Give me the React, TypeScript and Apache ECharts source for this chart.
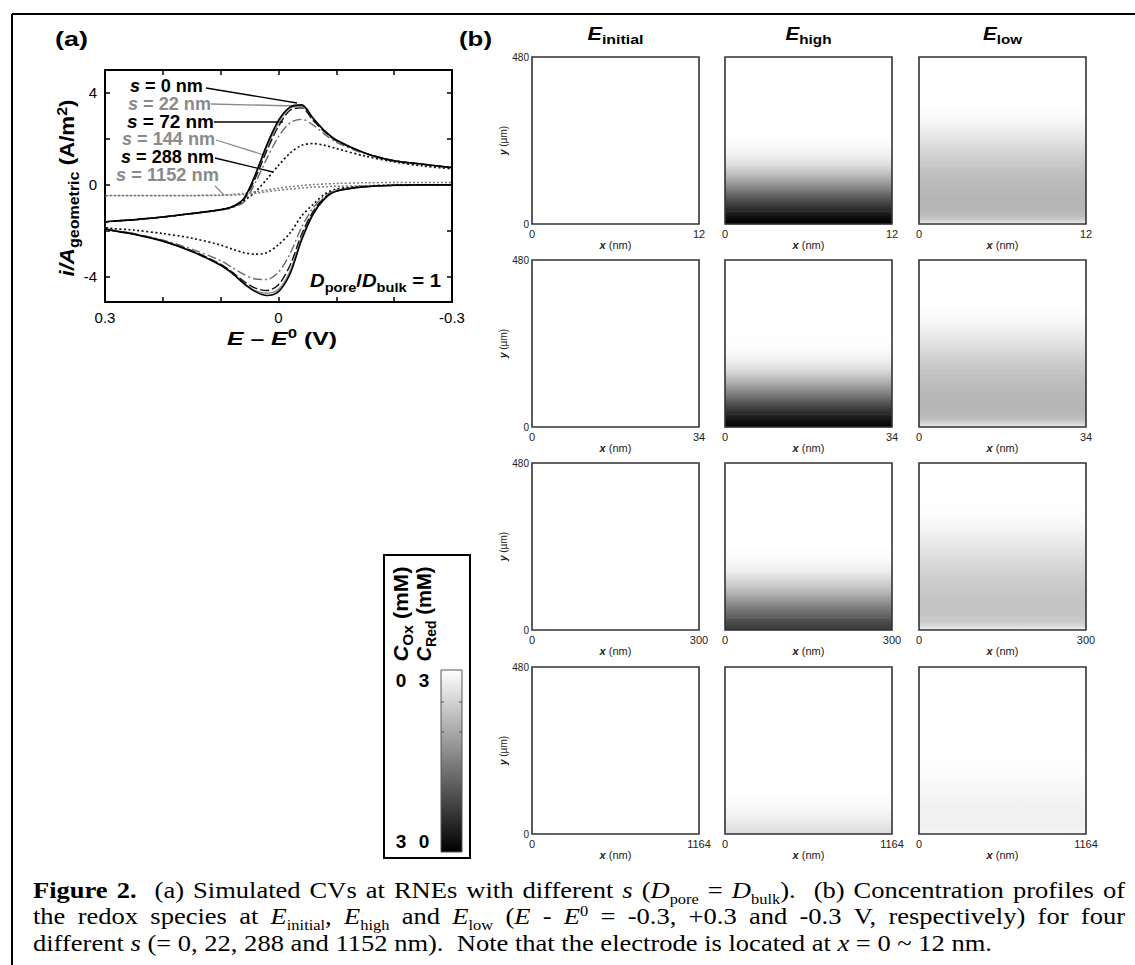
import React, { useEffect, useRef } from 'react';
import * as echarts from 'echarts';

// ---------------- Panel (a): simulated CVs ----------------
const E_GRID = [-0.3, -0.25, -0.2, -0.15, -0.1, -0.08, -0.06, -0.04, -0.02, 0, 0.02, 0.04, 0.06, 0.08, 0.1, 0.15, 0.2, 0.25, 0.3];
const S_VALUES = [0, 22, 72, 144, 288, 1152];
// forward sweep (E from -0.3 to +0.3) and reverse sweep (values listed in the same E order)
const FWD_S0 = [0, 0, -0.02, -0.08, -0.28, -0.6, -1.27, -2.4, -3.87, -4.65, -4.82, -4.65, -4.3, -3.85, -3.5, -2.9, -2.45, -2.15, -1.87];
const REV_S0 = [0.75, 0.9, 1.05, 1.38, 1.95, 2.35, 2.9, 3.48, 3.38, 2.8, 1.75, 0.45, -0.6, -0.95, -1.08, -1.25, -1.4, -1.52, -1.65];
const FWD_S22 = [0, 0, -0.02, -0.08, -0.27, -0.58, -1.2, -2.3, -3.75, -4.55, -4.72, -4.6, -4.27, -3.83, -3.48, -2.88, -2.44, -2.14, -1.86];
const REV_S22 = [0.75, 0.9, 1.05, 1.38, 1.93, 2.33, 2.85, 3.42, 3.35, 2.7, 1.65, 0.4, -0.6, -0.95, -1.08, -1.25, -1.4, -1.52, -1.65];
const FWD_S72 = [0, 0, -0.02, -0.08, -0.26, -0.55, -1.15, -2.15, -3.5, -4.35, -4.6, -4.5, -4.2, -3.8, -3.45, -2.87, -2.43, -2.13, -1.86];
const REV_S72 = [0.75, 0.9, 1.05, 1.38, 1.92, 2.3, 2.8, 3.35, 3.25, 2.55, 1.5, 0.3, -0.65, -0.97, -1.08, -1.25, -1.4, -1.52, -1.65];
const FWD_S144 = [0, 0, -0.02, -0.07, -0.23, -0.48, -1.0, -1.85, -3.0, -3.8, -4.12, -4.1, -3.9, -3.6, -3.3, -2.8, -2.4, -2.12, -1.85];
const REV_S144 = [0.74, 0.88, 1.03, 1.35, 1.85, 2.2, 2.6, 2.85, 2.7, 2.1, 1.15, 0.1, -0.75, -1.0, -1.1, -1.25, -1.4, -1.52, -1.65];
const FWD_S288 = [0, 0, -0.01, -0.05, -0.18, -0.4, -0.85, -1.35, -2.1, -2.6, -2.95, -3.02, -2.95, -2.8, -2.62, -2.32, -2.12, -1.97, -1.83];
const REV_S288 = [0.7, 0.82, 1.0, 1.25, 1.58, 1.72, 1.8, 1.72, 1.38, 0.85, 0.25, -0.3, -0.7, -0.95, -1.08, -1.25, -1.4, -1.52, -1.65];
const FWD_S1152 = [-0.02, -0.02, -0.03, -0.04, -0.06, -0.08, -0.1, -0.14, -0.18, -0.23, -0.3, -0.37, -0.42, -0.45, -0.46, -0.47, -0.47, -0.47, -0.47];
const REV_S1152 = [0.1, 0.1, 0.1, 0.09, 0.06, 0.04, 0.01, -0.03, -0.08, -0.14, -0.22, -0.3, -0.37, -0.42, -0.44, -0.46, -0.46, -0.46, -0.46];
const X_TICKS = [-0.3, -0.2, -0.1, 0, 0.1, 0.2, 0.3];
const X_LABELS = [-0.3, 0, 0.3];
const Y_TICKS = [-4, -2, 0, 2, 4];
const Y_LABELS = [-4, 0, 4];

// ---------------- Panel (b): concentration profiles (C_Ox, mM) ----------------
const Y_POS = [0, 12, 24, 36, 48, 72, 96, 120, 144, 168, 192, 216, 240, 264, 288, 312, 336, 360, 384, 432, 480];
const X_MAX = [12, 34, 300, 1164];
const S_ROWS = [0, 22, 288, 1152];
const C_INITIAL = [0, 0, 0, 0, 0, 0, 0, 0, 0, 0, 0, 0, 0, 0, 0, 0, 0, 0, 0, 0, 0];
const C_HIGH_S0 = [3.0, 2.91, 2.76, 2.58, 2.4, 2.01, 1.56, 1.14, 0.75, 0.42, 0.21, 0.09, 0.03, 0, 0, 0, 0, 0, 0, 0, 0];
const C_HIGH_S22 = [2.95, 2.86, 2.72, 2.55, 2.36, 1.95, 1.5, 1.08, 0.7, 0.38, 0.18, 0.07, 0.02, 0, 0, 0, 0, 0, 0, 0, 0];
const C_HIGH_S288 = [2.34, 2.22, 2.1, 1.92, 1.74, 1.41, 1.05, 0.72, 0.45, 0.21, 0.09, 0.03, 0, 0, 0, 0, 0, 0, 0, 0, 0];
const C_HIGH_S1152 = [0.39, 0.36, 0.3, 0.24, 0.18, 0.09, 0.03, 0, 0, 0, 0, 0, 0, 0, 0, 0, 0, 0, 0, 0, 0];
const C_LOW_S0 = [0.21, 0.6, 0.78, 0.84, 0.87, 0.87, 0.84, 0.8, 0.74, 0.66, 0.57, 0.45, 0.33, 0.24, 0.14, 0.06, 0.02, 0, 0, 0, 0];
const C_LOW_S22 = [0.18, 0.55, 0.76, 0.83, 0.86, 0.86, 0.83, 0.79, 0.73, 0.66, 0.57, 0.46, 0.35, 0.25, 0.15, 0.07, 0.02, 0, 0, 0, 0];
const C_LOW_S288 = [0.15, 0.45, 0.6, 0.66, 0.69, 0.7, 0.68, 0.64, 0.59, 0.53, 0.46, 0.38, 0.3, 0.22, 0.14, 0.07, 0.03, 0.01, 0, 0, 0];
const C_LOW_S1152 = [0.1, 0.14, 0.16, 0.17, 0.17, 0.16, 0.14, 0.11, 0.08, 0.05, 0.03, 0.01, 0, 0, 0, 0, 0, 0, 0, 0, 0];
const C_MAX = 3;

// ---------------- layout / style (not data) ----------------
const SANS = 'Liberation Sans';
const SERIF = 'Liberation Serif';
const NARROW = "'Liberation Sans Narrow', 'Liberation Sans', sans-serif";
const COL_X = [532, 725, 919];
const ROW_Y = [57, 260, 463, 667];
const PW = 167;
const PH = 167;
const CAP_F = 23;

type Seg = { t: string; bold?: boolean; italic?: boolean; pos?: 'sub' | 'sup'; color?: string };
type Word = { w: Seg[]; g?: number };
const n = (t: string): Seg => ({ t });
const b = (t: string): Seg => ({ t, bold: true });
const it = (t: string): Seg => ({ t, italic: true });
const bi = (t: string): Seg => ({ t, bold: true, italic: true });
const sub = (t: string, bold = false): Seg => ({ t, pos: 'sub', bold });
const sup = (t: string, bold = false): Seg => ({ t, pos: 'sup', bold });

const CAPTION_1: Word[] = [
  { w: [b('Figure')] }, { w: [b('2.')], g: 2 }, { w: [n('(a)')] }, { w: [n('Simulated')] }, { w: [n('CVs')] },
  { w: [n('at')] }, { w: [n('RNEs')] }, { w: [n('with')] }, { w: [n('different')] }, { w: [it('s')] },
  { w: [n('('), it('D'), sub('pore')] }, { w: [n('=')] }, { w: [it('D'), sub('bulk'), n(').')], g: 2 },
  { w: [n('(b)')] }, { w: [n('Concentration')] }, { w: [n('profiles')] }, { w: [n('of')] },
];
const CAPTION_2: Word[] = [
  { w: [n('the')] }, { w: [n('redox')] }, { w: [n('species')] }, { w: [n('at')] },
  { w: [it('E'), sub('initial'), n(',')] }, { w: [it('E'), sub('high')] }, { w: [n('and')] },
  { w: [it('E'), sub('low')] }, { w: [n('('), it('E')] }, { w: [n('-')] }, { w: [it('E'), sup('0')] },
  { w: [n('=')] }, { w: [n('-0.3,')] }, { w: [n('+0.3')] }, { w: [n('and')] }, { w: [n('-0.3')] },
  { w: [n('V,')] }, { w: [n('respectively)')] }, { w: [n('for')] }, { w: [n('four')] },
];
const CAPTION_3: Word[] = [
  { w: [n('different')] }, { w: [it('s')] }, { w: [n('(=')] }, { w: [n('0,')] }, { w: [n('22,')] },
  { w: [n('288')] }, { w: [n('and')] }, { w: [n('1152')] }, { w: [n('nm).')], g: 2 }, { w: [n('Note')] },
  { w: [n('that')] }, { w: [n('the')] }, { w: [n('electrode')] }, { w: [n('is')] }, { w: [n('located')] },
  { w: [n('at')] }, { w: [it('x')] }, { w: [n('=')] }, { w: [n('0')] }, { w: [n('~')] }, { w: [n('12')] },
  { w: [n('nm.')] },
];

let _ctx: CanvasRenderingContext2D | null = null;
function textW(s: Seg, size: number, fam: string): number {
  if (!_ctx) _ctx = document.createElement('canvas').getContext('2d');
  if (!_ctx) return s.t.length * size * 0.5;
  _ctx.font = `${s.italic ? 'italic ' : ''}${s.bold ? 'bold ' : ''}${size}px "${fam}"`;
  return _ctx.measureText(s.t).width;
}
interface TOpt { x: number; y: number; size: number; fam?: string; align?: 'left' | 'center' | 'right'; rot?: number; width?: number; subK?: number; color?: string }
function segSize(s: Seg, o: TOpt) { return s.pos ? o.size * (o.subK ?? 0.68) : o.size; }
function segDy(s: Seg, o: TOpt) { return s.pos === 'sub' ? o.size * 0.24 : s.pos === 'sup' ? -o.size * 0.36 : 0; }
function segEl(s: Seg, x: number, o: TOpt, fam: string) {
  const sz = segSize(s, o);
  return {
    type: 'text', x, y: segDy(s, o) - 0.35 * sz, silent: true,
    style: {
      text: s.t, fontSize: sz, fontFamily: fam, fontWeight: s.bold ? 'bold' : 'normal',
      fontStyle: s.italic ? 'italic' : 'normal', fill: s.color ?? o.color ?? '#000',
      align: 'left', verticalAlign: 'middle', textAlign: 'left', textVerticalAlign: 'middle',
    },
  };
}
function richLine(segs: Seg[], o: TOpt) {
  const fam = o.fam ?? SANS;
  const ws = segs.map((s) => textW(s, segSize(s, o), fam));
  const total = ws.reduce((a, c) => a + c, 0);
  const sc = o.width ? o.width / total : 1;
  const start = o.align === 'center' ? -total / 2 : o.align === 'right' ? -total : 0;
  let cx = start;
  const children = segs.map((s, i) => { const el = segEl(s, cx, o, fam); cx += ws[i]; return el; });
  return { type: 'group', x: o.x, y: o.y, rotation: o.rot ?? 0, scaleX: sc, children };
}
function capMetrics(words: Word[]) {
  const o: TOpt = { x: 0, y: 0, size: CAP_F, subK: 0.62 };
  const ww = words.map((wd) => wd.w.reduce((a, s) => a + textW(s, segSize(s, o), SERIF), 0));
  const sp = textW({ t: ' ' }, CAP_F, SERIF);
  const gaps = words.slice(0, -1).map((wd) => wd.g ?? 1);
  const sumW = ww.reduce((a, c) => a + c, 0);
  const sumG = gaps.reduce((a, c) => a + c, 0);
  return { o, sp, gaps, sumW, sumG };
}
function captionGroup(words: Word[], baseline: number, sx: number, justify: number | null) {
  const { o, sp, gaps, sumW, sumG } = capMetrics(words);
  const unit = justify != null ? (justify / sx - sumW) / sumG : sp;
  const children: any[] = [];
  let cx = 0;
  words.forEach((wd, i) => {
    wd.w.forEach((s) => { children.push(segEl(s, cx, o, SERIF)); cx += textW(s, segSize(s, o), SERIF); });
    if (i < gaps.length) cx += unit * gaps[i];
  });
  return { type: 'group', x: 33, y: baseline, scaleX: sx, children };
}
function gray(c: number) {
  const v = Math.max(0, Math.min(255, Math.round(255 * (1 - c / C_MAX))));
  return `rgb(${v},${v},${v})`;
}

const CURVES = [
  { s: S_VALUES[0], fwd: FWD_S0, rev: REV_S0 },
  { s: S_VALUES[1], fwd: FWD_S22, rev: REV_S22 },
  { s: S_VALUES[2], fwd: FWD_S72, rev: REV_S72 },
  { s: S_VALUES[3], fwd: FWD_S144, rev: REV_S144 },
  { s: S_VALUES[4], fwd: FWD_S288, rev: REV_S288 },
  { s: S_VALUES[5], fwd: FWD_S1152, rev: REV_S1152 },
];
const CURVE_STYLE = [
  { color: '#000', type: 'solid', width: 1.6 },
  { color: '#8a8a8a', type: 'solid', width: 1.4 },
  { color: '#111', type: [9, 3], width: 1.4 },
  { color: '#6a6a6a', type: [9, 3, 2, 3], width: 1.4 },
  { color: '#111', type: [2, 2.5], width: 1.7 },
  { color: '#7a7a7a', type: [2, 2], width: 1.5 },
];
const PROFILES = [
  [C_INITIAL, C_HIGH_S0, C_LOW_S0],
  [C_INITIAL, C_HIGH_S22, C_LOW_S22],
  [C_INITIAL, C_HIGH_S288, C_LOW_S288],
  [C_INITIAL, C_HIGH_S1152, C_LOW_S1152],
];
const HEADS = ['initial', 'high', 'low'];

function buildOption() {
  const grid: any[] = [{ left: 105, top: 70, width: 347, height: 232 }];
  const xAxis: any[] = [];
  const yAxis: any[] = [];
  const series: any[] = [];
  const axA = (pos: 'bottom' | 'top') => ({
    type: 'value', gridIndex: 0, min: -0.3, max: 0.3, inverse: true, position: pos,
    axisLine: { show: true, onZero: false, lineStyle: { color: '#000', width: 2 } },
    axisTick: { show: true, inside: true, length: 5, customValues: X_TICKS, lineStyle: { color: '#000', width: 1.5 } },
    axisLabel: pos === 'bottom'
      ? { show: true, customValues: X_LABELS, formatter: (v: number) => (v === 0 ? '0' : String(v)), fontSize: 15, color: '#000', fontFamily: SANS, margin: 8 }
      : { show: false },
    splitLine: { show: false },
  });
  const ayA = (pos: 'left' | 'right') => ({
    type: 'value', gridIndex: 0, min: -5.1, max: 5, position: pos,
    axisLine: { show: true, onZero: false, lineStyle: { color: '#000', width: 2 } },
    axisTick: { show: true, inside: true, length: 5, customValues: Y_TICKS, lineStyle: { color: '#000', width: 1.5 } },
    axisLabel: pos === 'left'
      ? { show: true, customValues: Y_LABELS, fontSize: 15, color: '#000', fontFamily: SANS, margin: 8 }
      : { show: false },
    splitLine: { show: false },
  });
  xAxis.push(axA('bottom'), axA('top'));
  yAxis.push(ayA('left'), ayA('right'));

  CURVES.forEach((cv, k) => {
    const data = E_GRID.map((e, i) => [e, cv.fwd[i]]).concat(E_GRID.map((e, i) => [e, cv.rev[i]]).reverse());
    const st = CURVE_STYLE[k];
    series.push({
      type: 'line', name: `s = ${cv.s} nm`, xAxisIndex: 0, yAxisIndex: 0, data, showSymbol: false, symbol: 'none',
      smooth: 0.3, lineStyle: { color: st.color, type: st.type, width: st.width }, z: 3 + (k === 0 ? 2 : 0),
    });
  });

  S_ROWS.forEach((s, r) => {
    COL_X.forEach((cx, c) => {
      const gi = grid.length;
      grid.push({ left: cx, top: ROW_Y[r], width: PW, height: PH, show: true, borderColor: '#333', borderWidth: 1.6, backgroundColor: 'transparent', z: 5 });
      const xi = xAxis.length;
      xAxis.push({
        type: 'value', gridIndex: gi, min: 0, max: X_MAX[r],
        axisLine: { show: false }, axisTick: { show: false }, splitLine: { show: false },
        axisLabel: { customValues: [0, X_MAX[r]], formatter: (v: number) => String(v), fontSize: 11, color: '#222', margin: 4, fontFamily: NARROW },
        name: '{i|x} (nm)', nameLocation: 'middle', nameGap: 13,
        nameTextStyle: { fontSize: 11, color: '#222', fontFamily: NARROW, rich: { i: { fontStyle: 'italic', fontWeight: 'bold', fontSize: 11, color: '#222', fontFamily: NARROW } } },
      });
      const yi = yAxis.length;
      yAxis.push({
        type: 'value', gridIndex: gi, min: 0, max: 480,
        axisLine: { show: false }, axisTick: { show: false }, splitLine: { show: false },
        axisLabel: c === 0
          ? { customValues: [0, 480], formatter: (v: number) => String(v), fontSize: 10, color: '#222', margin: 3, fontFamily: NARROW }
          : { show: false },
        name: c === 0 ? '{i|y} (µm)' : '', nameLocation: 'middle', nameGap: 20, nameRotate: 90,
        nameTextStyle: { fontSize: 10, color: '#222', fontFamily: NARROW, rich: { i: { fontStyle: 'italic', fontWeight: 'bold', fontSize: 10, color: '#222', fontFamily: NARROW } } },
      });
      const prof = PROFILES[r][c];
      const data = Y_POS.slice(0, -1).map((y, i) => [y, Y_POS[i + 1], prof[i], prof[i + 1]]);
      series.push({
        type: 'custom', xAxisIndex: xi, yAxisIndex: yi, silent: true, z: 1,
        encode: { x: 2, y: [0, 1] },
        renderItem: (params: any, api: any) => {
          const y0 = api.value(0), y1 = api.value(1), c0 = api.value(2), c1 = api.value(3);
          const pTop = api.coord([0, y1]);
          const pBot = api.coord([0, y0]);
          const cs = params.coordSys;
          return {
            type: 'rect',
            shape: { x: cs.x, y: pTop[1] - 0.3, width: cs.width, height: pBot[1] - pTop[1] + 0.6 },
            style: { fill: { type: 'linear', x: 0, y: 0, x2: 0, y2: 1, colorStops: [{ offset: 0, color: gray(c1) }, { offset: 1, color: gray(c0) }] } },
          };
        },
        data,
      });
    });
  });

  // ---------- graphic annotations ----------
  const el: any[] = [];
  el.push({ type: 'line', shape: { x1: 12, y1: 14, x2: 1135, y2: 14 }, style: { stroke: '#000', lineWidth: 2 } });
  el.push({ type: 'line', shape: { x1: 12, y1: 14, x2: 12, y2: 965 }, style: { stroke: '#000', lineWidth: 2 } });
  el.push(richLine([b('(a)')], { x: 55, y: 46, size: 20, width: 33 }));
  el.push(richLine([b('(b)')], { x: 459, y: 46, size: 20, width: 33 }));
  const headW = [56, 46, 39];
  HEADS.forEach((h, c) => {
    el.push(richLine([bi('E'), { t: h, bold: true, pos: 'sub' }], { x: COL_X[c] + PW / 2, y: 40, size: 18, subK: 0.74, align: 'center', width: headW[c] }));
  });
  // panel (a) legend labels + leader lines
  const LBL_X = [130, 128, 127, 122, 121, 116];
  const LBL_Y = [92, 110, 128, 145.5, 163, 181];
  const LBL_W = [73, 83, 87, 93, 93, 103];
  const LBL_C = ['#000', '#8a8a8a', '#000', '#8a8a8a', '#000', '#8a8a8a'];
  const LEAD = [[206, 88, 297, 103], [211, 104, 295, 106], [214, 122, 283, 122], [216, 140, 264, 155], [215, 158, 273, 172], [215, 186, 224, 195]];
  S_VALUES.forEach((s, k) => {
    el.push(richLine([bi('s'), b(` = ${s} nm`)], { x: LBL_X[k], y: LBL_Y[k], size: 18, width: LBL_W[k], color: LBL_C[k] }));
    const L = LEAD[k];
    el.push({ type: 'line', shape: { x1: L[0], y1: L[1], x2: L[2], y2: L[3] }, style: { stroke: LBL_C[k], lineWidth: 1.3 } });
  });
  el.push(richLine([bi('D'), sub('pore', true), b('/'), bi('D'), sub('bulk', true), b(' = 1')], { x: 441, y: 287, size: 19, subK: 0.72, align: 'right', width: 131 }));
  el.push(richLine([bi('i'), bi('/'), bi('A'), sub('geometric', true), b(' (A/m'), sup('2', true), b(')')], { x: 74, y: 188, size: 20, subK: 0.72, rot: Math.PI / 2, align: 'center', width: 177 }));
  el.push(richLine([bi('E'), b(' – '), bi('E'), sup('0', true), b(' (V)')], { x: 282, y: 345, size: 18, align: 'center', width: 110 }));
  // panel (b) s labels
  S_ROWS.forEach((s, r) => {
    COL_X.forEach((cx) => {
      el.push(richLine([it('s'), n(` = ${s} nm`)], { x: cx + PW / 2, y: ROW_Y[r] + 22, size: 15, align: 'center', color: '#222' }));
    });
  });
  // colour bar
  el.push({ type: 'rect', shape: { x: 384, y: 555, width: 86, height: 303 }, style: { fill: 'none', stroke: '#000', lineWidth: 2 } });
  el.push({
    type: 'rect', shape: { x: 441, y: 670, width: 21, height: 182 },
    style: { fill: { type: 'linear', x: 0, y: 0, x2: 0, y2: 1, colorStops: [{ offset: 0, color: gray(0) }, { offset: 1, color: gray(C_MAX) }] }, stroke: '#555', lineWidth: 1 },
  });
  [702, 732].forEach((ty) => {
    el.push({ type: 'line', shape: { x1: 441, y1: ty, x2: 444, y2: ty }, style: { stroke: '#555', lineWidth: 1 } });
    el.push({ type: 'line', shape: { x1: 459, y1: ty, x2: 462, y2: ty }, style: { stroke: '#555', lineWidth: 1 } });
  });
  el.push(richLine([bi('C'), sub('Ox', true), b(' (mM)')], { x: 408, y: 614, size: 20, subK: 0.7, rot: Math.PI / 2, align: 'center', width: 95 }));
  el.push(richLine([bi('C'), sub('Red', true), b(' (mM)')], { x: 431, y: 614, size: 20, subK: 0.7, rot: Math.PI / 2, align: 'center', width: 95 }));
  el.push(richLine([b('0')], { x: 401, y: 687, size: 19, align: 'center' }));
  el.push(richLine([b('3')], { x: 424, y: 687, size: 19, align: 'center' }));
  el.push(richLine([b('3')], { x: 401, y: 848, size: 19, align: 'center' }));
  el.push(richLine([b('0')], { x: 424, y: 848, size: 19, align: 'center' }));
  // caption
  const m3 = capMetrics(CAPTION_3);
  const sx = 959 / (m3.sumW + m3.sumG * m3.sp);
  el.push(captionGroup(CAPTION_1, 898, sx, 1092));
  el.push(captionGroup(CAPTION_2, 924.5, sx, 1092));
  el.push(captionGroup(CAPTION_3, 951, sx, null));

  return {
    animation: false,
    backgroundColor: '#fff',
    grid, xAxis, yAxis, series,
    graphic: { elements: el },
  };
}

export default function App() {
  const ref = useRef<HTMLDivElement>(null);
  useEffect(() => {
    if (!ref.current) return;
    const chart = echarts.init(ref.current, undefined, { renderer: 'svg' });
    chart.setOption(buildOption() as any);
    return () => chart.dispose();
  }, []);
  return <div ref={ref} style={{ position: 'absolute', left: 0, top: 0, width: 1135, height: 965, background: '#fff' }} />;
}
